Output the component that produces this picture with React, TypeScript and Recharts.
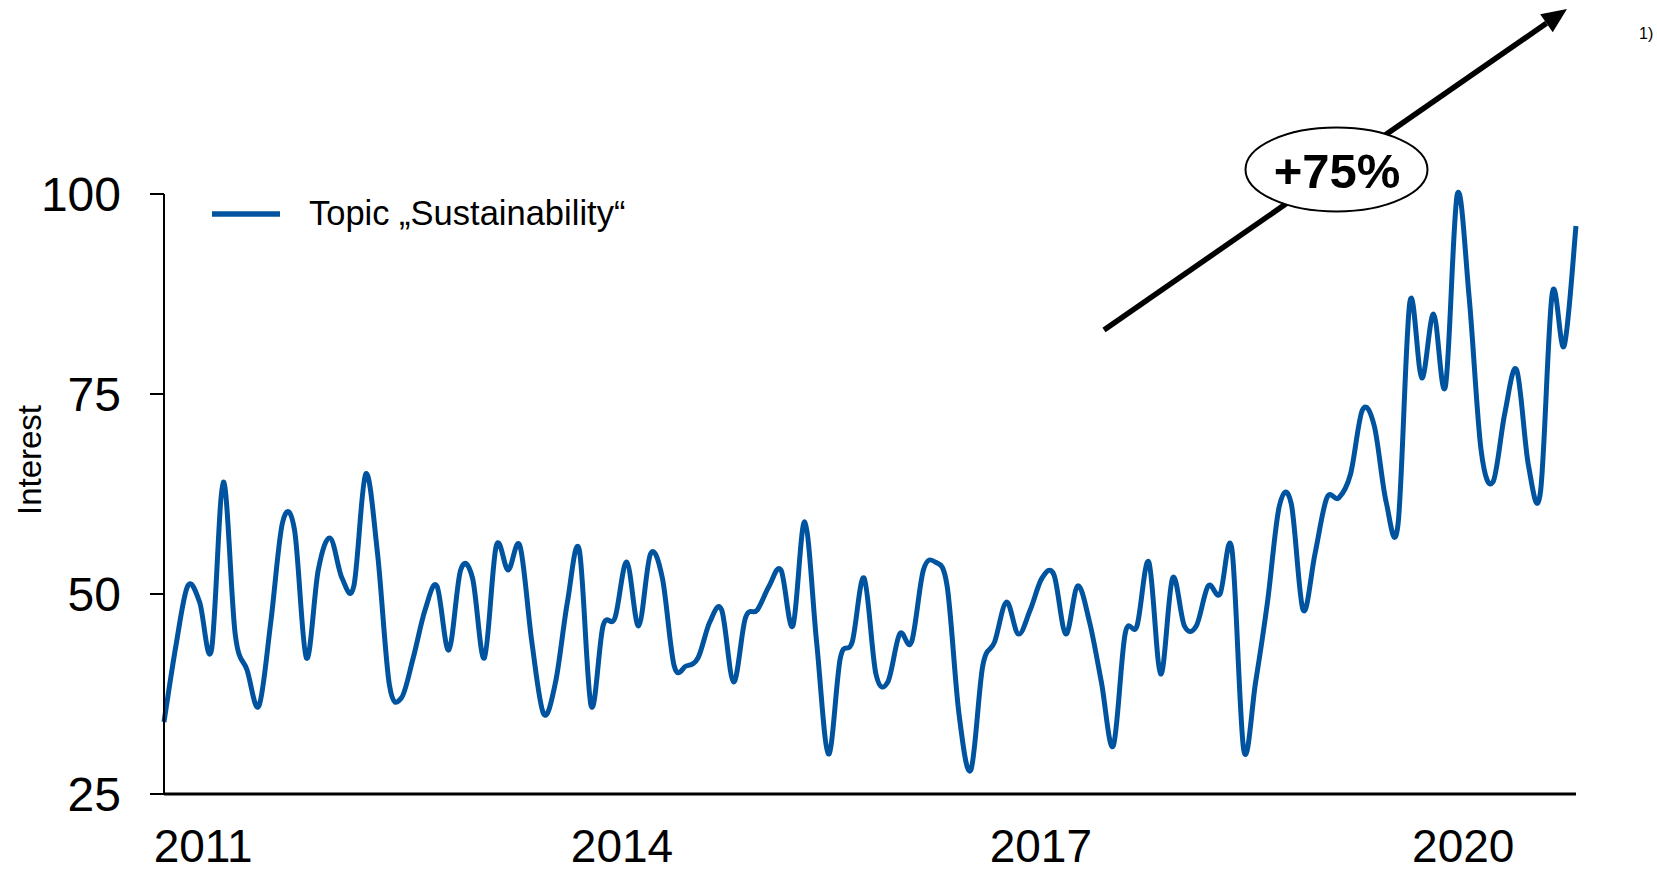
import React from 'react';
import { LineChart, Line, XAxis, YAxis, Legend, Label } from 'recharts';

// monthly interest index (index 0 = first month shown)
const interest = [
  34, 43.5, 51, 49, 43, 64, 45, 40.5, 36, 46.5,
  59, 58, 42, 53, 57, 52, 51, 65, 55, 38.6,
  37, 42, 48, 51, 43, 53, 52, 42, 56, 53,
  56, 44, 35, 39, 49, 55.5, 36, 46, 47, 54,
  46, 55, 52, 41, 41, 42, 46.5, 48, 39, 47,
  48, 51, 53, 46, 59, 44, 30, 42, 44, 52,
  40, 39, 45, 44, 53, 54, 51, 35, 28, 41,
  44, 49, 45, 48, 52, 52.4, 45, 51, 46.5, 39,
  31, 45, 46, 54, 40, 52, 46, 46, 51, 50,
  55.6, 30.5, 39, 49, 61, 61.3, 48, 55, 62, 62,
  65, 73, 71, 61.5, 58.7, 86.5, 77, 85, 76, 100,
  87, 68, 64, 72.6, 78, 66, 62.7, 87.6, 81, 96,
];

const yearLabels = ['2011', '2014', '2017', '2020'];
const yearTickAt = [3.3, 38.6, 73.9, 109.5];
const yTicks = [25, 50, 75, 100];

const seriesName = 'Topic „Sustainability“';
const growthLabel = '+75%';
const footnote = '1)';

const BLUE = '#00549F';
const FONT = '"Liberation Sans", Arial, Helvetica, sans-serif';

const chartData = interest.map((v, i) => ({ month: i, value: v }));

// smoothed line like the office "smoothed line" option (Catmull-Rom)
const catmullRom = (context: any) => {
  let pts: number[][] = [];
  return {
    areaStart() {},
    areaEnd() {},
    lineStart() {
      pts = [];
    },
    point(x: number, y: number) {
      pts.push([+x, +y]);
    },
    lineEnd() {
      if (!pts.length) return;
      context.moveTo(pts[0][0], pts[0][1]);
      for (let i = 0; i < pts.length - 1; i++) {
        const p0 = pts[i - 1] || pts[i];
        const p1 = pts[i];
        const p2 = pts[i + 1];
        const p3 = pts[i + 2] || p2;
        context.bezierCurveTo(
          p1[0] + (p2[0] - p0[0]) / 6,
          p1[1] + (p2[1] - p0[1]) / 6,
          p2[0] - (p3[0] - p1[0]) / 6,
          p2[1] - (p3[1] - p1[1]) / 6,
          p2[0],
          p2[1]
        );
      }
    },
  };
};

const renderLegend = () => (
  <div style={{ display: 'flex', alignItems: 'center', fontFamily: FONT }}>
    <svg width={68} height={12}>
      <line x1={0} y1={6} x2={68} y2={6} stroke={BLUE} strokeWidth={5.5} />
    </svg>
    <span style={{ marginLeft: 29, fontSize: 34.5, color: '#000', lineHeight: 'normal', whiteSpace: 'nowrap' }}>
      {seriesName}
    </span>
  </div>
);

const AxisTitle = (props: any) => {
  const { viewBox } = props;
  const x = viewBox.x + 29;
  const y = viewBox.y + viewBox.height / 2 - 34;
  return (
    <text
      x={x}
      y={y}
      transform={`rotate(-90 ${x} ${y})`}
      textAnchor="middle"
      dominantBaseline="central"
      fontSize={33}
      fontFamily={FONT}
      fill="#000"
    >
      Interest
    </text>
  );
};

const App: React.FC = () => {
  // arrow geometry for the annotation
  const tail = { x: 1104, y: 330 };
  const tip = { x: 1567, y: 9 };
  const dx = tip.x - tail.x;
  const dy = tip.y - tail.y;
  const len = Math.sqrt(dx * dx + dy * dy);
  const ux = dx / len;
  const uy = dy / len;
  const headLen = 25;
  const headHalf = 11;
  const bx = tip.x - ux * headLen;
  const by = tip.y - uy * headLen;
  const head = `${tip.x},${tip.y} ${bx - uy * headHalf},${by + ux * headHalf} ${bx + uy * headHalf},${by - ux * headHalf}`;

  return (
    <div style={{ position: 'absolute', left: 0, top: 0, width: 1657, height: 872, background: '#fff' }}>
      <LineChart width={1657} height={872} data={chartData} margin={{ top: 194, right: 81, left: 0, bottom: 0 }}>
        <XAxis
          dataKey="month"
          type="number"
          domain={[0, interest.length - 1]}
          ticks={yearTickAt}
          tickFormatter={(v: number) => yearLabels[yearTickAt.indexOf(v)] ?? ''}
          height={78}
          tickLine={false}
          tickSize={0}
          tickMargin={35}
          axisLine={{ stroke: '#000', strokeWidth: 3 }}
          tick={{ fontSize: 46, fill: '#000', fontFamily: FONT }}
          interval={0}
        />
        <YAxis
          width={164}
          domain={[25, 100]}
          ticks={yTicks}
          tickSize={14}
          tickMargin={29}
          axisLine={{ stroke: '#000', strokeWidth: 2 }}
          tickLine={{ stroke: '#000', strokeWidth: 2 }}
          tick={{ fontSize: 48, fill: '#000', fontFamily: FONT }}
        >
          <Label content={<AxisTitle />} />
        </YAxis>
        <Legend
          layout="horizontal"
          verticalAlign="middle"
          align="center"
          wrapperStyle={{ top: 194, left: 212, width: 'auto' }}
          content={renderLegend}
        />
        <Line
          type={catmullRom as any}
          dataKey="value"
          name={seriesName}
          stroke={BLUE}
          strokeWidth={5}
          dot={false}
          activeDot={false}
          isAnimationActive={false}
        />
      </LineChart>
      <svg
        width={1657}
        height={872}
        style={{ position: 'absolute', left: 0, top: 0, pointerEvents: 'none' }}
      >
        <line x1={tail.x} y1={tail.y} x2={bx} y2={by} stroke="#000" strokeWidth={5.5} />
        <polygon points={head} fill="#000" />
        <ellipse cx={1336.5} cy={169.5} rx={91} ry={42} fill="#fff" stroke="#000" strokeWidth={2} />
        <text x={1337} y={188} textAnchor="middle" fontSize={49} fontWeight="bold" fontFamily={FONT} fill="#000">
          {growthLabel}
        </text>
        <text x={1639} y={39} fontSize={16} fontFamily={FONT} fill="#000">
          {footnote}
        </text>
      </svg>
    </div>
  );
};

export default App;
